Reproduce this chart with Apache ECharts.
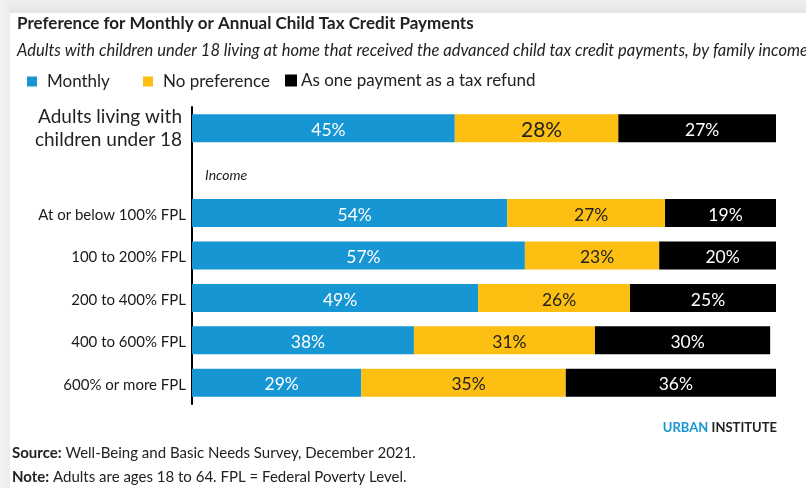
<!DOCTYPE html>
<html>
<head>
<meta charset="utf-8">
<script src="https://cdn.jsdelivr.net/npm/echarts@6/dist/echarts.min.js"></script>
<style>
  html, body { margin: 0; padding: 0; background: #fff; }
  #chart { width: 806px; height: 488px; }
</style>
</head>
<body>
<div id="chart"></div>
<script>
// Row labels (the empty row leaves room for the "Income" subheading)
const categories = [
  'Adults living with\nchildren under 18',
  '',
  'At or below 100% FPL',
  '100 to 200% FPL',
  '200 to 400% FPL',
  '400 to 600% FPL',
  '600% or more FPL'
];
const seriesNames = ['Monthly', 'No preference', 'As one payment as a tax refund'];
const monthly      = [45, null, 54, 57, 49, 38, 29];
const noPreference = [28, null, 27, 23, 26, 31, 35];
const taxRefund    = [27, null, 19, 20, 25, 30, 36];

const FONT = 'Lato, "Noto Sans", sans-serif';
const BLUE = '#1696d2', YELLOW = '#fdbf11', BLACK = '#000000';

function labelled(values, textColor) {
  return values.map((v, i) => ({
    value: v,
    label: { fontSize: i === 0 && textColor !== '#fff' ? 21 : 17.5 }
  }));
}

function barSeries(name, values, color, textColor) {
  return {
    name: name,
    type: 'bar',
    stack: 'total',
    barWidth: 28,
    itemStyle: { color: color },
    label: {
      show: true,
      position: 'inside',
      offset: [5, 2],
      formatter: '{c}%',
      color: textColor,
      fontFamily: FONT,
      fontSize: 17.5
    },
    data: labelled(values, textColor)
  };
}

const chart = echarts.init(document.getElementById('chart'), null, { renderer: 'canvas' });

function legendItem(name, left, size, pad) {
  return {
    data: [name],
    left: left,
    top: 68 - (size - 10) / 2,
    icon: 'rect',
    itemWidth: size,
    itemHeight: size,
    textStyle: { fontFamily: FONT, fontSize: 17, color: '#222', padding: [0, 0, 0, pad] }
  };
}

chart.setOption({
  backgroundColor: '#ffffff',
  animation: false,
  title: [
    {
      text: 'Preference for Monthly or Annual Child Tax Credit Payments',
      left: 12, top: 10,
      textStyle: { fontFamily: FONT, fontSize: 17, fontWeight: 'bold', color: '#222' }
    },
    {
      text: 'Adults with children under 18 living at home that received the advanced child tax credit payments, by family income',
      left: 12, top: 37,
      textStyle: { fontFamily: FONT, fontSize: 16.5, fontStyle: 'italic', fontWeight: 'normal', color: '#222' }
    }
  ],
  legend: [
    legendItem(seriesNames[0], 22, 10, 5),
    legendItem(seriesNames[1], 138, 10, 5),
    legendItem(seriesNames[2], 280, 12, -1)
  ],
  grid: { left: 192, right: 30, top: 107, bottom: 84, containLabel: false },
  xAxis: {
    type: 'value', min: 0, max: 100, show: false
  },
  yAxis: {
    type: 'category',
    inverse: true,
    data: categories,
    axisLine: { show: true, lineStyle: { color: '#000', width: 2 } },
    axisTick: { show: false },
    axisLabel: {
      margin: 6,
      fontFamily: FONT,
      color: '#222',
      formatter: (v, i) => i === 0 ? '{big|' + v.split('\n').join('}\n{big|') + '}' : '{small|' + v + '}',
      rich: {
        big: { fontFamily: FONT, fontSize: 19, lineHeight: 23, color: '#222', align: 'right', padding: [0, 4, 0, 0] },
        small: { fontFamily: FONT, fontSize: 15, color: '#1a1a1a', padding: [4, 0, 0, 0] }
      }
    }
  },
  series: [
    barSeries(seriesNames[0], monthly, BLUE, '#fff'),
    barSeries(seriesNames[1], noPreference, YELLOW, '#222'),
    barSeries(seriesNames[2], taxRefund, BLACK, '#fff')
  ],
  graphic: [
    // page frame around the card
    { type: 'rect', left: 0, top: 0, silent: true, z: -10,
      shape: { width: 806, height: 13 },
      style: { fill: new echarts.graphic.LinearGradient(0, 0, 0, 1, [
        { offset: 0, color: '#f0f0f0' }, { offset: 1, color: '#e4e4e4' }]) } },
    { type: 'rect', left: 0, top: 0, silent: true, z: -10,
      shape: { width: 10, height: 488 },
      style: { fill: new echarts.graphic.LinearGradient(0, 0, 1, 0, [
        { offset: 0, color: '#f4f4f4' }, { offset: 1, color: '#ececec' }]) } },
    // subheading for the income rows
    { type: 'text', left: 205, top: 168,
      style: { text: 'Income', fontFamily: FONT, fontSize: 14, fontStyle: 'italic', fill: '#222' } },
    // credit line
    { type: 'text', right: 29, top: 421,
      style: {
        text: '{u|URBAN} {i|INSTITUTE}',
        rich: {
          u: { fontFamily: FONT, fontSize: 13, fontWeight: 'bold', fill: BLUE, color: BLUE },
          i: { fontFamily: FONT, fontSize: 13, fontWeight: 'bold', fill: '#222', color: '#222' }
        }
      } },
    { type: 'text', left: 12, top: 446,
      style: {
        text: '{b|Source:} Well-Being and Basic Needs Survey, December 2021.',
        fontFamily: FONT, fontSize: 15, fill: '#222',
        rich: { b: { fontFamily: FONT, fontSize: 15, fontWeight: 'bold', fill: '#222' } }
      } },
    { type: 'text', left: 12, top: 470,
      style: {
        text: '{b|Note:} Adults are ages 18 to 64. FPL = Federal Poverty Level.',
        fontFamily: FONT, fontSize: 15, fill: '#222',
        rich: { b: { fontFamily: FONT, fontSize: 15, fontWeight: 'bold', fill: '#222' } }
      } }
  ]
});
</script>
</body>
</html>
